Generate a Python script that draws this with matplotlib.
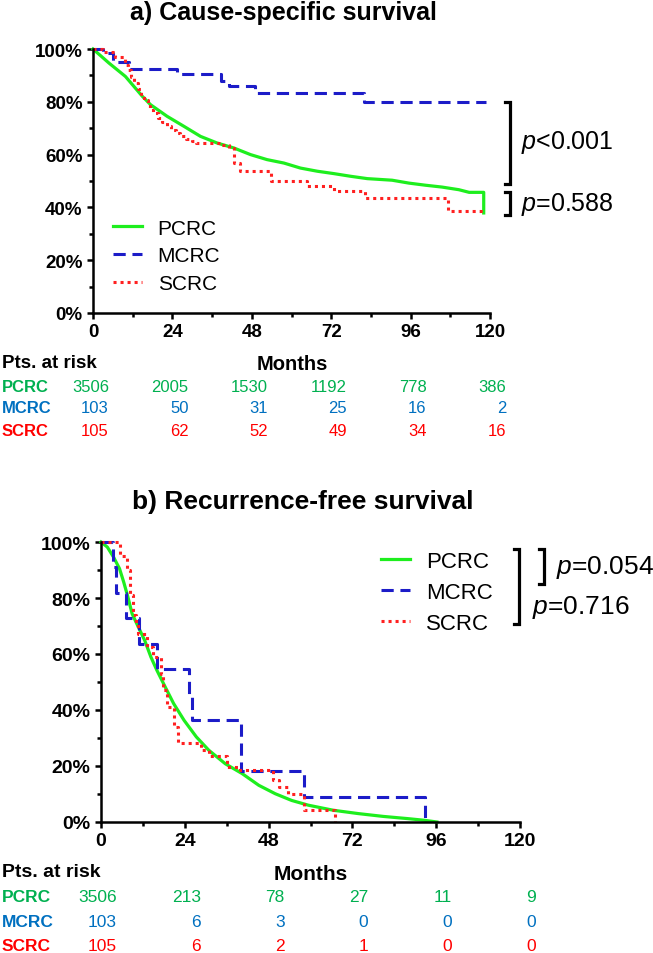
import matplotlib
matplotlib.use("Agg")
import matplotlib.pyplot as plt

plt.rcParams['font.family'] = ['Liberation Sans', 'DejaVu Sans']
plt.rcParams['mathtext.fontset'] = 'custom'
plt.rcParams['mathtext.it'] = 'Liberation Sans:italic'
plt.rcParams['mathtext.rm'] = 'Liberation Sans'

# ---- data ----
groups = ['PCRC', 'MCRC', 'SCRC']
tick_months = [0, 24, 48, 72, 96, 120]

# a) cause-specific survival
a_pcrc_t = [0, 4.8, 9.8, 14.9, 17.4, 22.4, 27.5, 32.5, 37.5, 42.6, 47.6, 52.6, 57.7,
            62.7, 67.8, 72.8, 77.8, 82.9, 90.4, 95.5, 100.5, 105.5, 110.6, 113.7, 118.1, 118.1]
a_pcrc_s = [100, 94.7, 89.6, 82.1, 78.9, 74.5, 70.7, 66.9, 64.4, 62.5, 60.0, 58.1, 56.8,
            54.9, 53.7, 52.8, 51.8, 50.9, 50.3, 49.2, 48.4, 47.7, 46.7, 45.7, 45.7, 37.9]
a_mcrc_t = [0, 3.0, 6.0, 11.0, 25.5, 38.8, 41.0, 49.0, 82.0, 118.8]
a_mcrc_s = [100, 98.5, 95.1, 92.4, 90.5, 88.0, 85.9, 83.3, 79.8, 79.8]
a_scrc_t = [0, 2.9, 6.5, 9.8, 10.5, 11.5, 12.3, 13.5, 14.5, 15.5, 16.5, 17.3, 18.0, 19.5, 21.0,
            22.4, 23.5, 25.0, 26.2, 28.0, 30.0, 31.2, 38.8, 41.1, 42.6, 44.5, 53.9, 64.6,
            72.8, 82.2, 107.4, 118.1]
a_scrc_s = [100, 98.7, 97.0, 94.1, 92.0, 89.5, 87.1, 85.0, 83.0, 80.8, 78.5, 77.0, 75.8, 74.0,
            72.3, 70.7, 69.5, 68.0, 66.9, 65.8, 65.0, 64.4, 63.8, 62.5, 56.8, 53.7, 49.9, 48.0,
            46.1, 43.6, 38.5, 38.5]
a_risk = {'PCRC': [3506, 2005, 1530, 1192, 778, 386],
          'MCRC': [103, 50, 31, 25, 16, 2],
          'SCRC': [105, 62, 52, 49, 34, 16]}

# b) recurrence-free survival
b_pcrc_t = [0, 1.8, 3.6, 5.3, 6.5, 7.7, 8.9, 10.7, 12.5, 14.3, 16.0, 18.4, 20.8, 23.8, 27.3,
            30.9, 35.6, 40.4, 45.2, 49.9, 54.6, 59.4, 66.5, 73.7, 80.8, 87.9, 92.7, 96.2]
b_pcrc_s = [100, 98.2, 94.6, 90.5, 85.7, 80.4, 74.4, 69.6, 64.9, 58.9, 54.2, 48.2, 42.3, 36.3,
            30.4, 25.6, 20.8, 17.3, 13.1, 10.1, 7.7, 6.0, 4.2, 3.0, 2.0, 1.2, 0.6, 0]
b_mcrc_t = [0, 3.5, 4.3, 7.1, 11.0, 16.0, 25.2, 26.1, 40.2, 58.0, 92.9]
b_mcrc_s = [100, 90.9, 81.8, 72.7, 63.6, 54.5, 45.5, 36.4, 18.2, 9.1, 0]
b_scrc_t = [0, 5.5, 7.5, 8.3, 9.3, 10.1, 10.7, 13.1, 14.9, 17.2, 17.8, 19.0, 20.8, 22.0, 28.5,
            30.9, 36.2, 39.8, 49.3, 51.1, 53.5, 58.2, 67.1]
b_scrc_s = [100, 95, 90, 81, 74, 71, 67, 62.5, 59, 53, 47, 41, 34, 28.2, 25.6, 23.5, 19.6,
            18.5, 14.9, 12.5, 10.1, 4.4, 0]
b_risk = {'PCRC': [3506, 213, 78, 27, 11, 9],
          'MCRC': [103, 6, 3, 0, 0, 0],
          'SCRC': [105, 6, 2, 1, 0, 0]}

line_col = {'PCRC': '#1eee1e', 'MCRC': '#1c1cc8', 'SCRC': '#ff2020'}
text_col = {'PCRC': '#00b050', 'MCRC': '#0070c0', 'SCRC': '#ff0000'}

W, H = 653, 954
fig = plt.figure(figsize=(W / 100, H / 100), dpi=100)


def style_axes(ax, tick_fs):
    ax.set_xlim(0, 120)
    ax.set_ylim(0, 100)
    for s in ['top', 'right']:
        ax.spines[s].set_visible(False)
    for s in ['left', 'bottom']:
        ax.spines[s].set_linewidth(1.8)
    ax.set_xticks(tick_months)
    ax.set_xticks([12, 36, 60, 84, 108], minor=True)
    ax.set_yticks(range(0, 101, 20))
    ax.set_yticklabels(['%d%%' % v for v in range(0, 101, 20)])
    ax.set_yticks(range(10, 100, 20), minor=True)
    ax.tick_params(which='major', length=4.5, width=1.8, labelsize=tick_fs, pad=3)
    ax.tick_params(which='minor', length=3, width=1.8)
    for lab in ax.get_xticklabels() + ax.get_yticklabels():
        lab.set_fontweight('bold')


def draw_curves(ax, pc, mc, sc):
    ax.plot(pc[0], pc[1], color=line_col['PCRC'], lw=2.3, label='PCRC', clip_on=False)
    ax.step(mc[0], mc[1], where='post', color=line_col['MCRC'], lw=2.2,
            dashes=(4, 2.2), label='MCRC', clip_on=False)
    ax.step(sc[0], sc[1], where='post', color=line_col['SCRC'], lw=2.2,
            dashes=(1.0, 1.3), label='SCRC', clip_on=False)


def bracket(ax, x, y0, y1, w=1.5):
    ax.plot([x - w, x, x, x - w], [y0, y0, y1, y1], color='k', lw=2.3,
            solid_joinstyle='miter', clip_on=False)


def risk_table(ax, risk, ys, fs, head_fs):
    fig.text(2 / W, 1 - ys[0] / H, 'Pts. at risk', fontsize=head_fs, fontweight='bold',
             ha='left', va='center')
    for g, y in zip(groups, ys[1:]):
        fig.text(2 / W, 1 - y / H, g, fontsize=fs, fontweight='bold', color=text_col[g],
                 ha='left', va='center')
        for t, n in zip(tick_months, risk[g]):
            ax.annotate(str(n), xy=(t, 1 - y / H), xycoords=('data', 'figure fraction'),
                        xytext=(16, 0), textcoords='offset pixels', ha='right', va='center',
                        fontsize=fs, color=text_col[g], annotation_clip=False)


# ---- panel a ----
ax1 = fig.add_axes([93 / W, 1 - 314 / H, 397 / W, 264 / H])
draw_curves(ax1, (a_pcrc_t, a_pcrc_s), (a_mcrc_t, a_mcrc_s), (a_scrc_t, a_scrc_s))
style_axes(ax1, 13.5)
ax1.legend(loc='center left', bbox_to_anchor=(0.05, 0.216), frameon=False, fontsize=15,
           handlelength=1.4, handletextpad=0.75, labelspacing=0.42, borderpad=0,
           borderaxespad=0)
bracket(ax1, 126, 80, 49)
bracket(ax1, 126, 46, 37)
ax1.text(129.5, 65, r'$p$<0.001', fontsize=18, ha='left', va='center')
ax1.text(129.5, 41.5, r'$p$=0.588', fontsize=18, ha='left', va='center')
fig.text(283 / W, 1 - 13 / H, 'a) Cause-specific survival', fontsize=18, fontweight='bold',
         ha='center', va='center')
fig.text(292 / W, 1 - 364 / H, 'Months', fontsize=14.5, fontweight='bold',
         ha='center', va='center')
risk_table(ax1, a_risk, [363, 387, 409, 432], 12, 13.5)

# ---- panel b ----
ax2 = fig.add_axes([101 / W, 1 - 823 / H, 419 / W, 280 / H])
draw_curves(ax2, (b_pcrc_t, b_pcrc_s), (b_mcrc_t, b_mcrc_s), (b_scrc_t, b_scrc_s))
style_axes(ax2, 14)
ax2.legend(loc='center left', bbox_to_anchor=(0.668, 0.821), frameon=False, fontsize=16,
           handlelength=1.3, handletextpad=0.75, labelspacing=0.45, borderpad=0,
           borderaxespad=0)
bracket(ax2, 119.7, 97.5, 70.7)
bracket(ax2, 126.9, 97.5, 85.0)
ax2.text(130.3, 91.4, r'$p$=0.054', fontsize=19, ha='left', va='center')
ax2.text(123.5, 76.8, r'$p$=0.716', fontsize=19, ha='left', va='center')
fig.text(303 / W, 1 - 502 / H, 'b) Recurrence-free survival', fontsize=19, fontweight='bold',
         ha='center', va='center')
fig.text(311 / W, 1 - 875 / H, 'Months', fontsize=15, fontweight='bold',
         ha='center', va='center')
risk_table(ax2, b_risk, [873, 898, 923, 947], 12.5, 14)

fig.savefig('out.png', dpi=100)
